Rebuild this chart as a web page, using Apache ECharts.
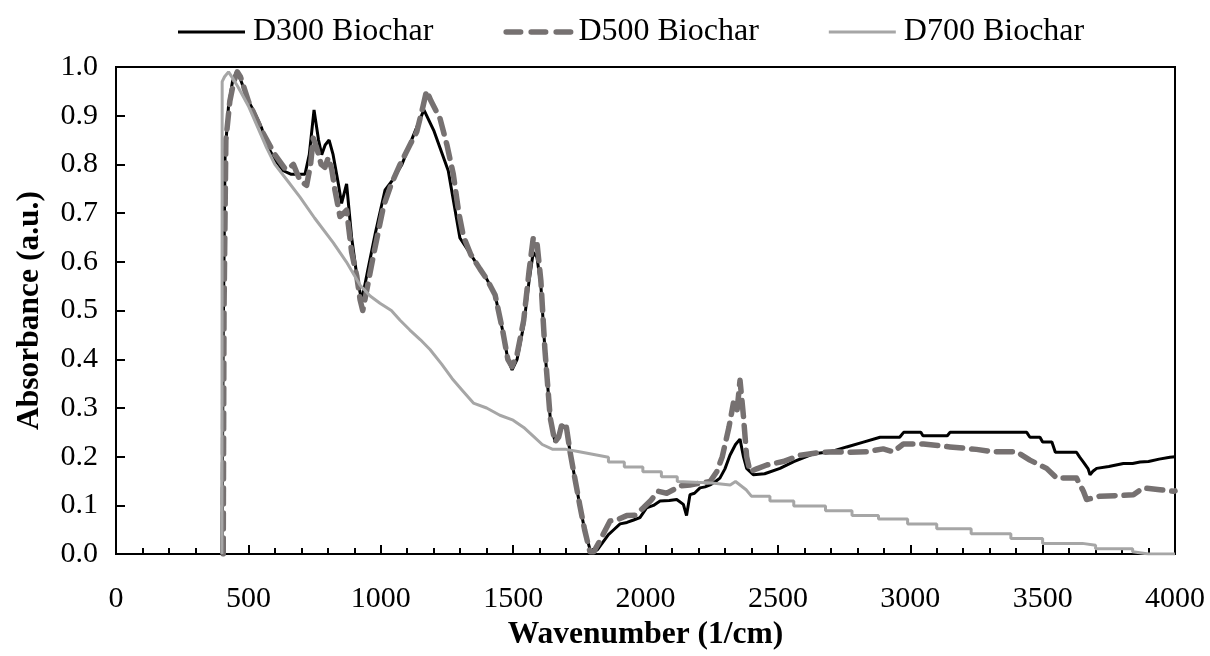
<!DOCTYPE html>
<html>
<head>
<meta charset="utf-8">
<title>FTIR spectra of biochar</title>
<script src="https://cdn.jsdelivr.net/npm/echarts@6/dist/echarts.min.js"></script>
<style>
  html, body { margin: 0; padding: 0; background: #ffffff; }
  #chart { width: 1210px; height: 656px; }
</style>
</head>
<body>
<div id="chart"></div>
<script>
// FTIR absorbance spectra (normalised) of biochars pyrolysed at 300, 500 and 700 °C

const seriesNames = ['D300 Biochar', 'D500 Biochar', 'D700 Biochar'];

const d300Wave = [400, 405, 412, 425, 440, 455, 470, 500, 520, 550, 570, 600, 632, 660, 682, 714, 730, 748, 765, 777, 790, 805, 820, 840, 852, 871, 890, 910, 928, 950, 980, 1016, 1041, 1080, 1120, 1163, 1200, 1255, 1299, 1340, 1375, 1400, 1432, 1460, 1480, 1496, 1515, 1540, 1560, 1576, 1590, 1605, 1620, 1640, 1658, 1672, 1685, 1700, 1715, 1735, 1752, 1770, 1790, 1800, 1820, 1840, 1860, 1880, 1904, 1930, 1955, 1979, 2004, 2030, 2055, 2090, 2118, 2143, 2155, 2168, 2185, 2206, 2225, 2244, 2262, 2281, 2300, 2319, 2340, 2357, 2370, 2382, 2407, 2450, 2508, 2560, 2634, 2700, 2760, 2823, 2886, 2960, 2975, 3012, 3040, 3048, 3140, 3150, 3440, 3452, 3490, 3500, 3535, 3548, 3628, 3640, 3654, 3672, 3679, 3690, 3704, 3750, 3805, 3840, 3868, 3900, 3940, 3981, 4000];
const d300Abs = [0.0, 0.45, 0.82, 0.92, 0.97, 0.99, 0.975, 0.93, 0.91, 0.875, 0.84, 0.81, 0.787, 0.78, 0.78, 0.78, 0.82, 0.912, 0.85, 0.82, 0.84, 0.85, 0.82, 0.76, 0.72, 0.76, 0.65, 0.57, 0.52, 0.58, 0.66, 0.747, 0.765, 0.80, 0.855, 0.912, 0.87, 0.787, 0.649, 0.615, 0.585, 0.565, 0.532, 0.46, 0.40, 0.378, 0.40, 0.47, 0.56, 0.619, 0.61, 0.55, 0.42, 0.28, 0.23, 0.24, 0.265, 0.26, 0.21, 0.15, 0.10, 0.05, 0.01, 0.002, 0.01, 0.025, 0.04, 0.05, 0.062, 0.065, 0.07, 0.075, 0.095, 0.10, 0.109, 0.11, 0.112, 0.102, 0.079, 0.122, 0.125, 0.136, 0.138, 0.142, 0.148, 0.156, 0.175, 0.203, 0.225, 0.236, 0.20, 0.176, 0.163, 0.165, 0.176, 0.19, 0.206, 0.21, 0.22, 0.23, 0.24, 0.24, 0.25, 0.25, 0.25, 0.243, 0.243, 0.25, 0.25, 0.24, 0.24, 0.23, 0.23, 0.209, 0.209, 0.199, 0.189, 0.175, 0.163, 0.17, 0.176, 0.18, 0.186, 0.186, 0.189, 0.19, 0.195, 0.199, 0.20];

const d500Wave = [405, 408, 415, 430, 445, 458, 470, 500, 550, 600, 640, 657, 670, 695, 720, 735, 745, 758, 775, 789, 802, 815, 827, 846, 860, 871, 890, 909, 922, 932, 950, 972, 1010, 1040, 1073, 1110, 1136, 1160, 1173, 1190, 1224, 1250, 1274, 1295, 1312, 1340, 1375, 1400, 1432, 1460, 1480, 1496, 1515, 1540, 1560, 1576, 1590, 1605, 1620, 1640, 1658, 1672, 1685, 1700, 1715, 1735, 1752, 1770, 1790, 1805, 1830, 1866, 1900, 1929, 1960, 1992, 2020, 2048, 2080, 2105, 2130, 2168, 2200, 2244, 2269, 2290, 2315, 2332, 2345, 2357, 2370, 2382, 2395, 2420, 2458, 2520, 2584, 2650, 2709, 2772, 2835, 2898, 2936, 2974, 3050, 3150, 3250, 3314, 3402, 3452, 3515, 3553, 3628, 3654, 3666, 3717, 3780, 3843, 3880, 3943, 3994, 4000];
const d500Abs = [0.0, 0.5, 0.85, 0.93, 0.97, 0.99, 0.98, 0.93, 0.87, 0.82, 0.79, 0.794, 0.80, 0.767, 0.757, 0.80, 0.854, 0.834, 0.80, 0.794, 0.814, 0.79, 0.747, 0.693, 0.70, 0.706, 0.62, 0.572, 0.522, 0.50, 0.55, 0.612, 0.713, 0.76, 0.80, 0.84, 0.867, 0.92, 0.951, 0.93, 0.894, 0.84, 0.78, 0.70, 0.653, 0.615, 0.585, 0.565, 0.532, 0.46, 0.40, 0.385, 0.41, 0.48, 0.58, 0.649, 0.64, 0.56, 0.42, 0.28, 0.23, 0.24, 0.268, 0.265, 0.21, 0.15, 0.10, 0.05, 0.005, 0.005, 0.03, 0.068, 0.072, 0.079, 0.08, 0.095, 0.11, 0.129, 0.125, 0.132, 0.14, 0.142, 0.145, 0.149, 0.169, 0.20, 0.26, 0.31, 0.29, 0.357, 0.283, 0.20, 0.169, 0.175, 0.183, 0.19, 0.203, 0.208, 0.21, 0.209, 0.21, 0.216, 0.21, 0.226, 0.226, 0.22, 0.215, 0.21, 0.21, 0.193, 0.176, 0.156, 0.156, 0.129, 0.112, 0.119, 0.12, 0.122, 0.136, 0.132, 0.129, 0.13];

const d700Wave = [400, 401, 410, 425, 443, 460, 500, 569, 600, 650, 695, 750, 821, 870, 922, 960, 997, 1040, 1073, 1110, 1150, 1186, 1230, 1270, 1310, 1350, 1400, 1450, 1500, 1540, 1580, 1610, 1650, 1700, 1750, 1800, 1860, 1860, 1920, 1920, 1990, 1990, 2060, 2060, 2120, 2120, 2250, 2250, 2320, 2340, 2380, 2400, 2470, 2470, 2560, 2560, 2680, 2680, 2780, 2780, 2880, 2880, 2990, 2990, 3100, 3100, 3230, 3230, 3380, 3380, 3500, 3500, 3650, 3650, 3700, 3700, 3840, 3840, 3900, 4000];
const d700Abs = [0.0, 0.97, 0.98, 0.99, 0.975, 0.96, 0.92, 0.834, 0.80, 0.765, 0.733, 0.69, 0.639, 0.60, 0.552, 0.53, 0.515, 0.50, 0.48, 0.46, 0.44, 0.42, 0.39, 0.36, 0.335, 0.31, 0.30, 0.285, 0.275, 0.26, 0.24, 0.225, 0.215, 0.215, 0.21, 0.205, 0.199, 0.189, 0.189, 0.179, 0.179, 0.169, 0.169, 0.159, 0.159, 0.149, 0.146, 0.142, 0.142, 0.149, 0.132, 0.119, 0.119, 0.109, 0.109, 0.099, 0.099, 0.089, 0.089, 0.079, 0.079, 0.072, 0.072, 0.062, 0.062, 0.052, 0.052, 0.042, 0.042, 0.032, 0.032, 0.022, 0.022, 0.018, 0.018, 0.011, 0.011, 0.005, 0.0, 0.0];

const xTicks = { min: 0, max: 4000, step: 500 };
const yTicks = { min: 0, max: 1, step: 0.1 };

const zip = (xs, ys) => xs.map((x, i) => [x, ys[i]]);

const FONT = '"Liberation Serif", "Times New Roman", serif';

// Legend keys: a plain bar for solid lines, three rounded dashes for the dashed one.
// Zero-length moves pin every key to the same 70 x 6 box.
const BOX = 'M0,0h0M70,6h0';
const solidKey = 'path://' + BOX + 'M0,1.5h67v3h-67z';
const dash = s => `M${s + 2.75},0.25h14.5a2.75,2.75 0 0 1 0,5.5h-14.5a2.75,2.75 0 0 1 0,-5.5z`;
const dashedKey = 'path://' + BOX + dash(0) + dash(25) + dash(50);

const chart = echarts.init(document.getElementById('chart'), null, { renderer: 'canvas' });

chart.setOption({
  backgroundColor: '#ffffff',
  animation: false,
  legend: {
    left: 173,
    top: 11,
    itemWidth: 70,
    itemHeight: 6,
    itemGap: 70,
    textStyle: { fontFamily: FONT, fontSize: 32, color: '#000000' },
    data: [
      { name: seriesNames[0], icon: solidKey },
      { name: seriesNames[1], icon: dashedKey },
      { name: seriesNames[2], icon: solidKey }
    ]
  },
  grid: {
    left: 116, right: 35, top: 67, bottom: 92,
    show: true, borderColor: '#000000', borderWidth: 2,
    containLabel: false
  },
  xAxis: {
    type: 'value',
    min: xTicks.min, max: xTicks.max, interval: xTicks.step,
    name: 'Wavenumber (1/cm)',
    nameLocation: 'middle',
    nameGap: 62,
    nameTextStyle: { fontFamily: FONT, fontSize: 31.5, fontWeight: 'bold', color: '#000000' },
    axisLine: { lineStyle: { color: '#000000', width: 2 } },
    axisTick: { inside: true, length: 9, lineStyle: { color: '#000000', width: 2 } },
    minorTick: { show: true, splitNumber: 5, length: 6, lineStyle: { color: '#000000', width: 2 } },
    axisLabel: { margin: 30, fontFamily: FONT, fontSize: 30, color: '#000000',
      formatter: v => String(v) },
    splitLine: { show: false }
  },
  yAxis: {
    type: 'value',
    min: yTicks.min, max: yTicks.max, interval: yTicks.step,
    name: 'Absorbance (a.u.)',
    nameLocation: 'middle',
    nameGap: 70,
    nameTextStyle: { fontFamily: FONT, fontSize: 31.5, fontWeight: 'bold', color: '#000000' },
    axisLine: { lineStyle: { color: '#000000', width: 2 } },
    axisTick: { inside: true, length: 9, lineStyle: { color: '#000000', width: 2 } },
    axisLabel: { margin: 18, fontFamily: FONT, fontSize: 30, color: '#000000',
      formatter: v => v.toFixed(1) },
    splitLine: { show: false }
  },
  series: [
    {
      name: seriesNames[0], type: 'line', showSymbol: false, symbol: 'none',
      data: zip(d300Wave, d300Abs),
      lineStyle: { color: '#000000', width: 3 },
      itemStyle: { color: '#000000' }
    },
    {
      name: seriesNames[1], type: 'line', showSymbol: false, symbol: 'none',
      data: zip(d500Wave, d500Abs),
      lineStyle: { color: '#767171', width: 5.5, type: [16, 9], cap: 'round', join: 'round' },
      itemStyle: { color: '#767171' }
    },
    {
      name: seriesNames[2], type: 'line', showSymbol: false, symbol: 'none',
      data: zip(d700Wave, d700Abs),
      lineStyle: { color: '#A6A6A6', width: 3 },
      itemStyle: { color: '#A6A6A6' }
    }
  ]
});
</script>
</body>
</html>
